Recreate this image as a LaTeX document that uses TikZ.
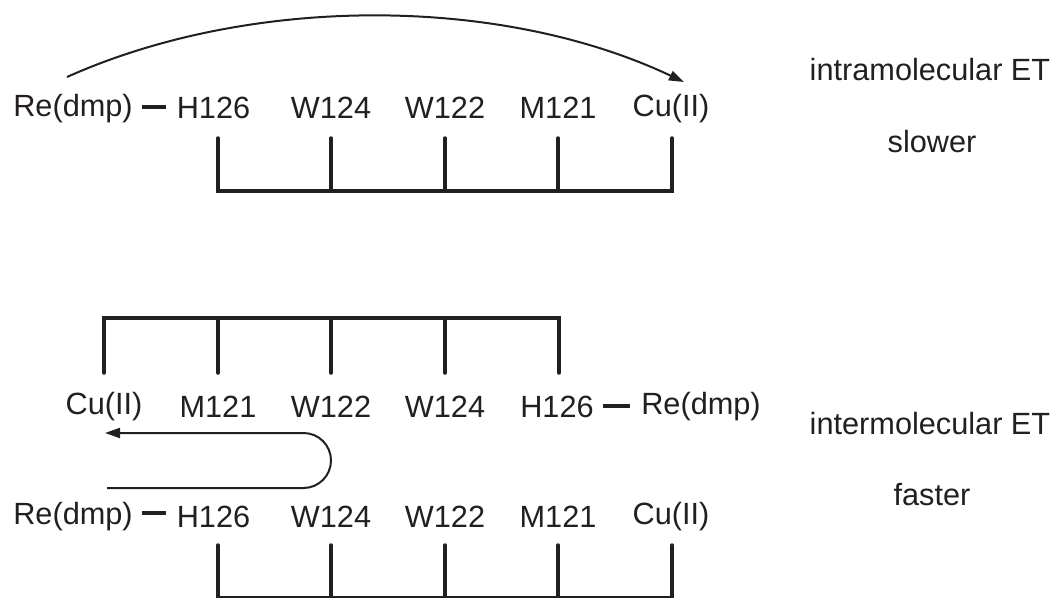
\documentclass[tikz,border=0pt]{standalone}
\usepackage{fontspec}
\setmainfont{Liberation Sans}
\usetikzlibrary{arrows.meta}
\definecolor{ink}{RGB}{35,31,32}
\begin{document}
\begin{tikzpicture}[x=1pt,y=-1pt,
  lbl/.style={font=\fontsize{30.7}{36}\selectfont, text=ink, inner sep=0pt, anchor=base},
  bracket/.style={draw=ink, line width=3.5pt, line cap=round, line join=miter},
  bar/.style={draw=ink, line width=4.5pt},
  etarrow/.style={draw=ink, line width=2pt, -{Triangle[length=15pt,width=10pt]}}]
\useasboundingbox (0,0) rectangle (1060,597);

% ---------- top: intramolecular ----------
\node[lbl] (tre)   at (73,116) {Re(dmp)};
\node[lbl] (th126) at (213.5,118) {H126};
\node[lbl] (tw124) at (331,118) {W124};
\node[lbl] (tw122) at (445,118) {W122};
\node[lbl] (tm121) at (558,118) {M121};
\node[lbl] (tcu)   at (671,116) {Cu(II)};
\coordinate (td1) at (142,107);
\coordinate (td2) at (166,107);
\draw[bar] (td1) -- (td2);
\draw[bracket] (218,138) -- (218,191) -- (672,191) -- (672,138);
\draw[bracket] (331,138) -- (331,191);
\draw[bracket] (445,138) -- (445,191);
\draw[bracket] (558,138) -- (558,191);
\coordinate (tas) at (67,77);
\coordinate (tae) at (684,82);
\draw[etarrow] (tas) .. controls (250,-5) and (500,-5) .. (tae);
\node[lbl] (intra) at (930,80) {intramolecular ET};
\node[lbl] (slow)  at (932,152) {slower};

% ---------- bottom: intermolecular ----------
\draw[bracket] (104,373) -- (104,318) -- (559,318) -- (559,373);
\draw[bracket] (218,318) -- (218,373);
\draw[bracket] (331,318) -- (331,373);
\draw[bracket] (445,318) -- (445,373);
\node[lbl] (mcu)   at (104,414) {Cu(II)};
\node[lbl] (mm121) at (218,417) {M121};
\node[lbl] (mw122) at (331,417) {W122};
\node[lbl] (mw124) at (445,417) {W124};
\node[lbl] (mh126) at (557,417) {H126};
\coordinate (md1) at (603,406);
\coordinate (md2) at (630,406);
\draw[bar] (md1) -- (md2);
\node[lbl] (mre)   at (701,414) {Re(dmp)};

\coordinate (ua) at (107,488);
\coordinate (ub) at (303.5,488);
\coordinate (uc) at (105,433);
\draw[etarrow] (ua) -- (ub) arc[start angle=90, end angle=-90, radius=27.5] -- (uc);

\node[lbl] (bre)   at (73,524) {Re(dmp)};
\node[lbl] (bh126) at (213.5,527) {H126};
\node[lbl] (bw124) at (331,527) {W124};
\node[lbl] (bw122) at (445,527) {W122};
\node[lbl] (bm121) at (558,527) {M121};
\node[lbl] (bcu)   at (671,524) {Cu(II)};
\coordinate (bd1) at (142,513);
\coordinate (bd2) at (166,513);
\draw[bar] (bd1) -- (bd2);
\draw[bracket] (218,545) -- (218,598) -- (672,598) -- (672,545);
\draw[bracket] (331,545) -- (331,598);
\draw[bracket] (445,545) -- (445,598);
\draw[bracket] (558,545) -- (558,598);

\node[lbl] (inter) at (930,434) {intermolecular ET};
\node[lbl] (fast)  at (932,505) {faster};
\end{tikzpicture}
\end{document}
